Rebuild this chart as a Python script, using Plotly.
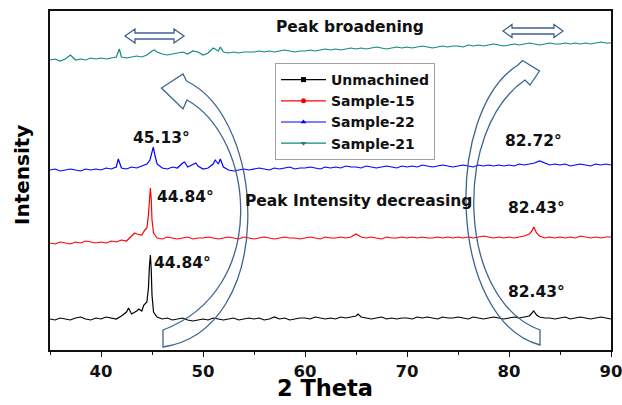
import plotly.graph_objects as go

# ---------------- data ----------------
X_BASE = [35.0, 35.5, 36.0, 36.5, 37.0, 37.5, 38.0, 38.5, 39.0, 39.5,
          40.0, 40.5, 41.0, 41.5, 42.0, 42.5, 43.0, 43.5, 44.0, 44.5,
          45.0, 45.5, 46.0, 46.5, 47.0, 47.5, 48.0, 48.5, 49.0, 49.5,
          50.0, 50.5, 51.0, 51.5, 52.0, 52.5, 53.0, 53.5, 54.0, 54.5,
          55.0, 55.5, 56.0, 56.5, 57.0, 57.5, 58.0, 58.5, 59.0, 59.5,
          60.0, 60.5, 61.0, 61.5, 62.0, 62.5, 63.0, 63.5, 64.0, 64.5,
          65.0, 65.5, 66.0, 66.5, 67.0, 67.5, 68.0, 68.5, 69.0, 69.5,
          70.0, 70.5, 71.0, 71.5, 72.0, 72.5, 73.0, 73.5, 74.0, 74.5,
          75.0, 75.5, 76.0, 76.5, 77.0, 77.5, 78.0, 78.5, 79.0, 79.5,
          80.0, 80.5, 81.0, 81.5, 82.0, 82.5, 83.0, 83.5, 84.0, 84.5,
          85.0, 85.5, 86.0, 86.5, 87.0, 87.5, 88.0, 88.5, 89.0, 89.5,
          90.0]

unmachined_y = [31, 30, 32, 31, 30, 32, 33, 31, 30, 32,
                31, 33, 32, 31, 34, 38, 36, 39, 39, 48,
                55, 33, 31, 32, 30, 31, 32, 30, 29, 30,
                31, 30, 32, 31, 30, 31, 32, 30, 31, 32,
                31, 32, 30, 31, 33, 31, 32, 30, 31, 32,
                32, 31, 33, 32, 31, 32, 31, 33, 32, 33,
                34, 33, 32, 31, 32, 33, 31, 32, 31, 32,
                32, 31, 33, 32, 33, 32, 31, 33, 32, 32,
                33, 32, 31, 33, 32, 31, 32, 33, 32, 31,
                32, 33, 32, 33, 34, 38, 33, 32, 32, 31,
                32, 33, 31, 32, 33, 32, 31, 32, 33, 32,
                31]
unmachined_peak_x = [42.7, 43.7, 44.2, 44.65, 44.75, 44.84, 44.92, 45.15, 65.2, 82.25, 82.43, 82.7]
unmachined_peak_y = [42, 41, 45, 62, 84, 95, 82, 38, 36, 37, 39, 35]

sample15_y = [107, 106, 108, 107, 106, 108, 107, 109, 108, 107,
              108, 107, 109, 108, 110, 109, 114, 116, 115, 122,
              130, 112, 111, 113, 112, 111, 112, 113, 111, 112,
              112, 113, 112, 111, 112, 113, 112, 111, 113, 112,
              111, 112, 113, 112, 111, 112, 113, 112, 112, 111,
              112, 113, 112, 111, 113, 112, 112, 113, 112, 113,
              116, 113, 112, 113, 112, 111, 113, 112, 112, 113,
              112, 113, 112, 113, 112, 112, 113, 112, 113, 112,
              113, 112, 113, 112, 113, 114, 113, 112, 113, 112,
              113, 112, 113, 114, 116, 121, 114, 112, 113, 112,
              113, 112, 113, 112, 114, 113, 112, 113, 112, 113,
              113]
sample15_peak_x = [43.3, 44.3, 44.65, 44.75, 44.84, 44.93, 45.15, 82.25, 82.43, 82.7]
sample15_peak_y = [117, 120, 135, 152, 162, 150, 117, 119, 123, 117]

sample22_y = [180, 181, 179, 180, 181, 180, 179, 181, 180, 181,
              180, 182, 181, 183, 182, 181, 183, 182, 184, 186,
              200, 186, 182, 181, 183, 182, 187, 183, 185, 184,
              181, 182, 186, 186, 183, 180, 179, 180, 181, 180,
              181, 182, 181, 180, 182, 181, 182, 183, 181, 182,
              182, 183, 182, 181, 183, 182, 183, 182, 184, 183,
              183, 182, 184, 183, 182, 183, 184, 183, 182, 184,
              183, 184, 183, 185, 184, 183, 184, 185, 184, 183,
              184, 185, 184, 183, 185, 184, 185, 184, 185, 184,
              185, 184, 186, 185, 186, 187, 189, 187, 185, 186,
              185, 186, 184, 185, 186, 185, 184, 186, 185, 186,
              185]
sample22_peak_x = [41.7, 44.8, 44.95, 45.13, 45.3, 48.2, 49.3, 51.2, 51.7]
sample22_peak_y = [191, 190, 197, 203, 194, 188, 187, 190, 191]

sample21_y = [290, 291, 289, 291, 295, 290, 291, 290, 292, 291,
              292, 291, 292, 293, 293, 292, 293, 294, 293, 295,
              299, 298, 296, 295, 296, 297, 298, 296, 299, 298,
              295, 297, 302, 299, 298, 297, 298, 297, 298, 298,
              298, 299, 298, 299, 298, 299, 300, 299, 298, 299,
              299, 300, 299, 300, 301, 300, 301, 300, 301, 302,
              301, 302, 301, 302, 303, 302, 301, 302, 303, 302,
              303, 302, 303, 304, 303, 302, 303, 304, 303, 304,
              304, 303, 305, 304, 305, 304, 305, 306, 305, 304,
              305, 306, 305, 306, 307, 306, 305, 306, 307, 306,
              306, 307, 306, 307, 306, 307, 306, 307, 308, 307,
              307]
sample21_peak_x = [41.8, 45.2, 51.7]
sample21_peak_y = [301, 300, 303]

SERIES = [
    ("Unmachined", unmachined_y, unmachined_peak_x, unmachined_peak_y, "#000000", "square"),
    ("Sample-15", sample15_y, sample15_peak_x, sample15_peak_y, "#ff0000", "circle"),
    ("Sample-22", sample22_y, sample22_peak_x, sample22_peak_y, "#0000ff", "triangle-up"),
    ("Sample-21", sample21_y, sample21_peak_x, sample21_peak_y, "#0f8a80", "triangle-down"),
]

PEAK_LABELS = ["45.13°", "44.84°", "44.84°", "82.72°", "82.43°", "82.43°"]
PEAK_LABEL_X = [45.95, 48.3, 47.95, 82.45, 82.65, 82.7]
PEAK_LABEL_Y = [212, 153, 87, 209, 142, 58]

X_TICKS = [40, 50, 60, 70, 80, 90]

# ---------------- figure ----------------
FONT = "DejaVu Sans"
L, R, T, B = 50, 11, 11, 55
W, H = 622, 405
PW, PH = W - L - R, H - T - B

fig = go.Figure()

for name, ybase, px_, py_, color, sym in SERIES:
    pts = sorted(list(zip(X_BASE, ybase)) + list(zip(px_, py_)))
    fig.add_trace(go.Scatter(x=[p[0] for p in pts], y=[p[1] for p in pts], mode="lines",
                             line=dict(color=color, width=1.2), showlegend=False,
                             hoverinfo="skip"))
for name, ybase, px_, py_, color, sym in SERIES:
    fig.add_trace(go.Scatter(x=[None], y=[None], mode="lines+markers", name=name,
                             line=dict(color=color, width=1.2),
                             marker=dict(color=color, symbol=sym, size=5)))


def P(x, y):
    """pixel position -> paper coordinates"""
    return (x - L) / PW, (T + PH - y) / PH


def path(cmds):
    out = []
    for c in cmds:
        op, pts = c[0], c[1:]
        s = op
        for (x, y) in pts:
            px, py = P(x, y)
            s += f" {px:.5f},{py:.5f}"
        out.append(s)
    return " ".join(out) + " Z"


ARROW_COLOR = "#3c6390"
arrows = [
    # left double arrow
    [("M", (125, 36)), ("L", (135, 29)), ("L", (135, 33)), ("L", (174, 33)), ("L", (174, 29)),
     ("L", (184, 36)), ("L", (174, 43)), ("L", (174, 39)), ("L", (135, 39)), ("L", (135, 43))],
    # right double arrow
    [("M", (503, 31)), ("L", (512, 24.5)), ("L", (512, 28)), ("L", (554, 28)), ("L", (554, 24.5)),
     ("L", (563, 31)), ("L", (554, 37.5)), ("L", (554, 34)), ("L", (512, 34)), ("L", (512, 37.5))],
    # left curved arrow
    [("M", (186.5, 81)), ("L", (183, 74)), ("L", (161.5, 88)), ("L", (183, 109)), ("L", (187, 100)),
     ("C", (255, 138), (270, 290), (163, 330)), ("L", (163, 347)),
     ("C", (276, 330), (268, 120), (186.5, 81))],
    # right curved arrow
    [("M", (518, 65)), ("L", (522.5, 60.5)), ("L", (539.5, 71)), ("L", (530, 85)), ("L", (525, 80)),
     ("C", (452, 130), (457, 300), (540, 330)), ("L", (540, 345)),
     ("C", (448, 320), (443, 112), (518, 65))],
]
shapes = [dict(type="path", xref="paper", yref="paper", path=path(a),
               line=dict(color=ARROW_COLOR, width=1.3), fillcolor="rgba(0,0,0,0)", layer="above")
          for a in arrows]

annotations = []
for t, x, y in zip(PEAK_LABELS, PEAK_LABEL_X, PEAK_LABEL_Y):
    annotations.append(dict(x=x, y=y, xref="x", yref="y", text=t, showarrow=False,
                            font=dict(family=FONT, size=15.5, color="#111", weight="bold"),
                            xanchor="center", yanchor="middle"))
for t, (px, py) in [("Peak broadening", (350, 27)), ("Peak Intensity decreasing", (358.5, 201))]:
    ax, ay = P(px, py)
    annotations.append(dict(x=ax, y=ay, xref="paper", yref="paper", text=t, showarrow=False,
                            font=dict(family=FONT, size=15.5, color="#111", weight="bold"),
                            xanchor="center", yanchor="middle"))
ax, ay = P(22, 175)
annotations.append(dict(x=ax, y=ay, xref="paper", yref="paper", text="Intensity", showarrow=False,
                        textangle=-90, font=dict(family=FONT, size=20, color="#000", weight="bold"),
                        xanchor="center", yanchor="middle"))
ax, ay = P(325, 388)
annotations.append(dict(x=ax, y=ay, xref="paper", yref="paper", text="2 Theta", showarrow=False,
                        font=dict(family=FONT, size=22.5, color="#000", weight="bold"),
                        xanchor="center", yanchor="middle"))

lx, ly = P(275, 63)
fig.update_layout(
    width=W, height=H,
    margin=dict(l=L, r=R, t=T, b=B, autoexpand=False),
    paper_bgcolor="white", plot_bgcolor="white",
    showlegend=True,
    legend=dict(x=lx, y=ly, xanchor="left", yanchor="top", bgcolor="white",
                bordercolor="#a0a0a0", borderwidth=1, itemwidth=45,
                font=dict(family=FONT, size=14, color="#111", weight="bold"),
                tracegroupgap=0),
    xaxis=dict(range=[35, 90], tickvals=X_TICKS, showgrid=False, zeroline=False,
               automargin=False, ticklabeloverflow="allow",
               showline=True, linecolor="#111", linewidth=1.6, mirror=True,
               ticks="outside", ticklen=5, tickwidth=1.4, tickcolor="#111",
               minor=dict(dtick=5, tick0=35, ticks="outside", ticklen=3, tickwidth=1.2, tickcolor="#111"),
               tickfont=dict(family=FONT, size=16.5, color="#111", weight="bold")),
    yaxis=dict(range=[0, PH], showgrid=False, zeroline=False, showticklabels=False,
               automargin=False,
               showline=True, linecolor="#111", linewidth=1.6, mirror=True, ticks=""),
    shapes=shapes,
    annotations=annotations,
)

fig.write_html("out.html", config={"displayModeBar": False},
               post_script="document.body.style.margin='0px';document.body.style.overflow='hidden';")
